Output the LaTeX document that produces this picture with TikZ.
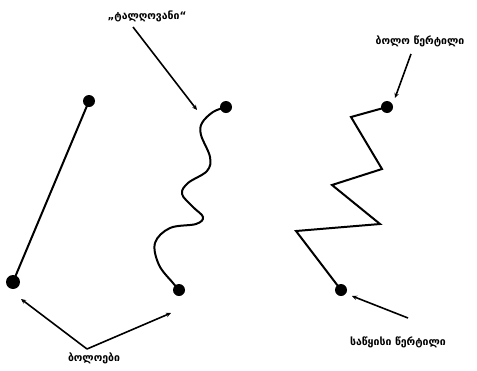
\documentclass[tikz,border=0pt]{standalone}
\usepackage{fontspec}
\newfontfamily\geo{DejaVu Sans}
\usetikzlibrary{arrows.meta}
\begin{document}
\begin{tikzpicture}[x=1pt,y=-1pt,
  ln/.style={line width=2pt,line cap=round,line join=miter},
  pt/.style={circle,fill=black,inner sep=0pt,minimum size=#1},
  pt/.default=11pt,
  ptr/.style={line width=1.6pt,-{Stealth[length=5pt,width=4.5pt]}},
  lbl/.style={font=\geo\bfseries\fontsize{10.5}{12}\selectfont,inner sep=0pt}]
\useasboundingbox (0,0) rectangle (477,370);
% straight segment
\node[pt=12pt] (a1) at (89,101) {};
\node[pt=14pt] (a2) at (13,282) {};
\draw[ln] (a1.center) -- (a2.center);
% wavy curve
\node[pt=12pt] (c1) at (226,107) {};
\node[pt=12pt] (c2) at (179,290) {};
\draw[ln] plot[smooth,tension=0.6] coordinates {(c1.center) (213,112) (202,123) (201,135) (210,157) (207,171) (188,183) (182,194) (193,207) (203,217) (196,224) (170,228) (155,243) (159,265) (173,283) (c2.center)};
% zigzag
\node[pt=12pt] (z1) at (387,107) {};
\node[pt=12pt] (z2) at (341,290) {};
\draw[ln] (z1.center) -- (351,117) -- (382,169) -- (332,185) -- (380,224) -- (296,231) -- (z2.center);
% labels
\node[lbl] (t1) at (147,16) {„ტალღოვანი“};
\node[lbl] (t2) at (420,41) {ბოლო წერტილი};
\node[lbl] (t3) at (398,342) {საწყისი წერტილი};
\node[lbl] (t4) at (94,358) {ბოლოები};
% pointers
\coordinate (p1s) at (133,27);
\coordinate (p1e) at (197,110);
\draw[ptr] (p1s) -- (p1e);
\coordinate (p2s) at (411,54);
\coordinate (p2e) at (395,98);
\draw[ptr] (p2s) -- (p2e);
\coordinate (p3s) at (408,318);
\coordinate (p3e) at (352,296);
\draw[ptr] (p3s) -- (p3e);
\coordinate (v) at (87,349);
\coordinate (p4e) at (21,299);
\coordinate (p5e) at (171,313);
\draw[ptr] (v) -- (p4e);
\draw[ptr] (v) -- (p5e);
\end{tikzpicture}
\end{document}
